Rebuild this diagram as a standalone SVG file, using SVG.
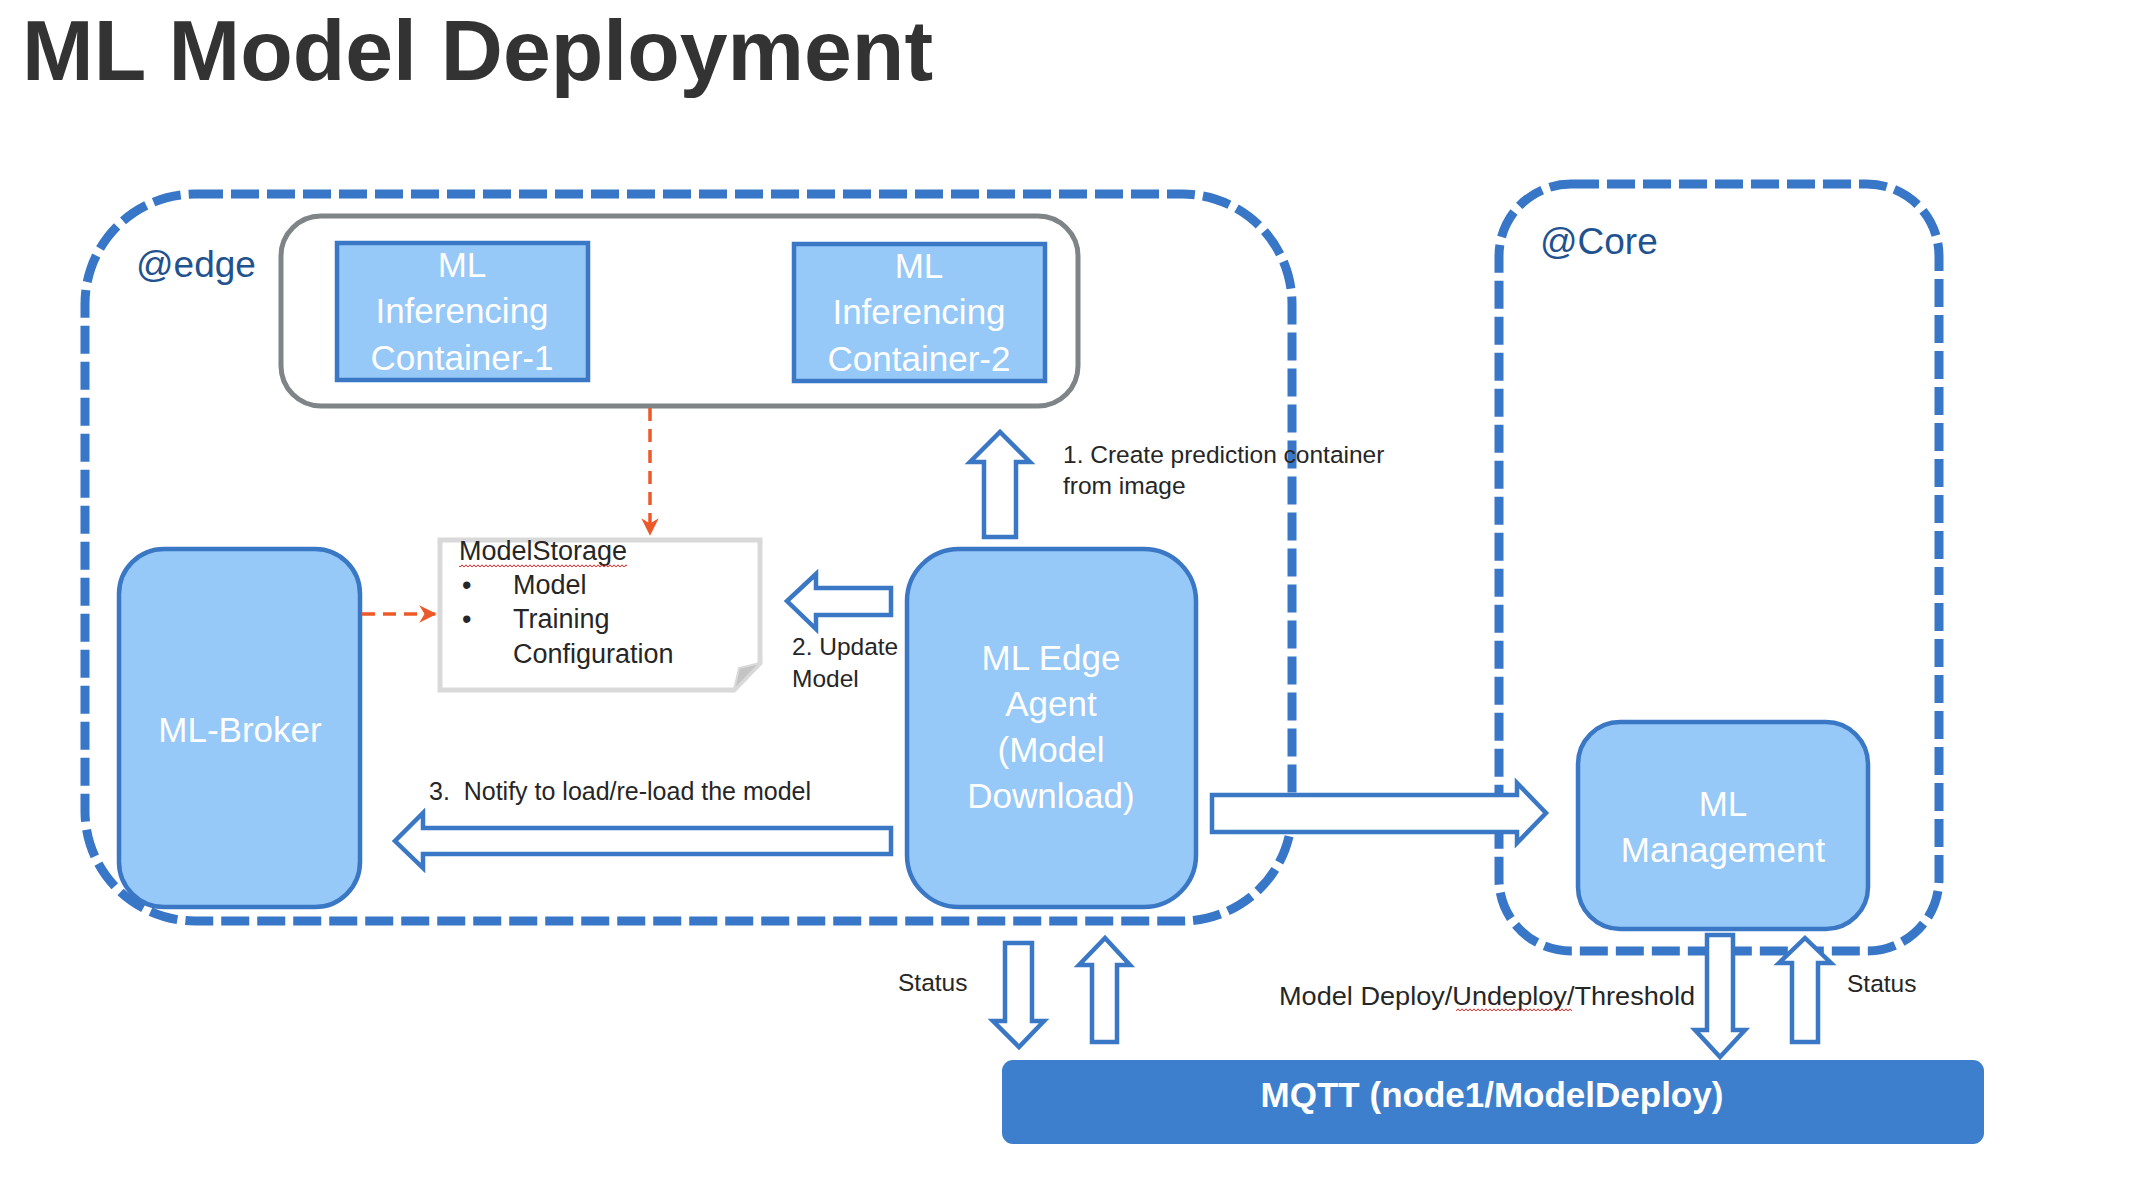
<svg xmlns="http://www.w3.org/2000/svg" width="2142" height="1184" viewBox="0 0 2142 1184">
<defs>
<style>
.zone{fill:none;stroke:#3877C7;stroke-width:9;stroke-dasharray:28 8}
.node{fill:#96C8F8;stroke:#3A78C6;stroke-width:4.5}
.ntxt{font-family:"Liberation Sans",Arial,sans-serif;font-size:35px;fill:#ffffff;text-anchor:middle}
.lbl{font-family:"Liberation Sans",Arial,sans-serif;font-size:24.5px;fill:#262626}
.note{font-family:"Liberation Sans",Arial,sans-serif;font-size:27px;fill:#262626}
.zlbl{font-family:"Liberation Sans",Arial,sans-serif;font-size:37px;fill:#1F528F}
.barrow{fill:#ffffff;stroke:#3A78C6;stroke-width:4.5;stroke-linejoin:miter}
.dash{fill:none;stroke:#EB5A28;stroke-width:3.5;stroke-dasharray:13 8}
</style>
<marker id="oh" viewBox="0 0 10 10" refX="9" refY="5" markerWidth="5" markerHeight="5" orient="auto" markerUnits="strokeWidth">
<path d="M0,0 L10,5 L0,10 L3,5 Z" fill="#EB5A28"/>
</marker>
<pattern id="sq" width="4" height="4" patternUnits="userSpaceOnUse">
<path d="M0,3.2 L2,0.8 L4,3.2" fill="none" stroke="#E2302B" stroke-width="1"/>
</pattern>
</defs>
<rect width="2142" height="1184" fill="#ffffff"/>

<text x="22" y="80" font-family="Liberation Sans,Arial,sans-serif" font-size="86" font-weight="bold" fill="#333333">ML Model Deployment</text>

<g id="zone-edge">
<rect class="zone" x="85" y="194" width="1207" height="727" rx="110" ry="110"/>
<text class="zlbl" x="136" y="277">@edge</text>
</g>
<g id="zone-core">
<rect class="zone" x="1499" y="184" width="440" height="767" rx="72" ry="72"/>
<text class="zlbl" x="1540" y="254">@Core</text>
</g>

<g id="inferencing-group">
<rect x="281" y="216" width="797" height="190" rx="40" ry="40" fill="#ffffff" stroke="#7F8486" stroke-width="5"/>
</g>
<g id="container-1">
<rect class="node" x="337" y="243" width="251" height="137"/>
<text class="ntxt" x="462" y="277">ML</text>
<text class="ntxt" x="462" y="323">Inferencing</text>
<text class="ntxt" x="462" y="370">Container-1</text>
</g>
<g id="container-2">
<rect class="node" x="794" y="244" width="251" height="137"/>
<text class="ntxt" x="919" y="278">ML</text>
<text class="ntxt" x="919" y="324">Inferencing</text>
<text class="ntxt" x="919" y="371">Container-2</text>
</g>

<g id="ml-broker">
<rect class="node" x="119" y="549" width="241" height="358" rx="45" ry="45"/>
<text class="ntxt" x="240" y="742">ML-Broker</text>
</g>

<g id="model-storage">
<path d="M440,540 H760 V663 L734,690 H440 Z" fill="#ffffff" stroke="#D9D9D9" stroke-width="5"/>
<path d="M734,690 L739,668 L760,663 Z" fill="#C4C4C4" stroke="#D9D9D9" stroke-width="2"/>
<text class="note" x="459" y="560">ModelStorage</text>
<rect x="459" y="564" width="168" height="4" fill="url(#sq)"/>
<text class="note" x="462" y="594">•</text>
<text class="note" x="513" y="594">Model</text>
<text class="note" x="462" y="628">•</text>
<text class="note" x="513" y="628">Training</text>
<text class="note" x="513" y="663">Configuration</text>
</g>

<g id="ml-edge-agent">
<rect class="node" x="907" y="549" width="289" height="358" rx="52" ry="52"/>
<text class="ntxt" x="1051" y="670">ML Edge</text>
<text class="ntxt" x="1051" y="716">Agent</text>
<text class="ntxt" x="1051" y="762">(Model</text>
<text class="ntxt" x="1051" y="808">Download)</text>
</g>

<g id="ml-management">
<rect class="node" x="1578" y="722" width="290" height="207" rx="42" ry="42"/>
<text class="ntxt" x="1723" y="816">ML</text>
<text class="ntxt" x="1723" y="862">Management</text>
</g>

<g id="mqtt">
<rect x="1002" y="1060" width="982" height="84" rx="11" ry="11" fill="#3D7FCC"/>
<text x="1492" y="1107" font-family="Liberation Sans,Arial,sans-serif" font-size="35" font-weight="bold" fill="#ffffff" text-anchor="middle">MQTT (node1/ModelDeploy)</text>
</g>

<g id="connectors">
<path class="dash" d="M650,408 V534" marker-end="url(#oh)"/>
<path class="dash" d="M362,614 H435" marker-end="url(#oh)"/>
<path class="barrow" d="M984,537 L984,462 L970,462 L1000,432 L1030,462 L1016,462 L1016,537 Z"/>
<path class="barrow" d="M891,588 L816,588 L816,574 L787,601 L816,629 L816,615 L891,615 Z"/>
<path class="barrow" d="M891,828 L423,828 L423,813 L395,841 L423,868 L423,854 L891,854 Z"/>
<path class="barrow" d="M1212,795 L1517,795 L1517,783 L1546,813 L1517,843 L1517,832 L1212,832 Z"/>
<path class="barrow" d="M1005,943 L1032,943 L1032,1021 L1044,1021 L1019,1047 L993,1021 L1005,1021 Z"/>
<path class="barrow" d="M1092,1042 L1092,965 L1079,965 L1105,938 L1130,965 L1117,965 L1117,1042 Z"/>
<path class="barrow" d="M1707,935 L1733,935 L1733,1030 L1745,1030 L1720,1057 L1695,1030 L1707,1030 Z"/>
<path class="barrow" d="M1792,1042 L1792,963 L1779,963 L1805,938 L1831,963 L1818,963 L1818,1042 Z"/>
</g>

<g id="labels">
<text class="lbl" x="1063" y="463">1. Create prediction container</text>
<text class="lbl" x="1063" y="494">from image</text>
<text class="lbl" x="792" y="655">2. Update</text>
<text class="lbl" x="792" y="687">Model</text>
<text class="lbl" x="429" y="800" style="font-size:25px" textLength="382" lengthAdjust="spacingAndGlyphs" xml:space="preserve">3.  Notify to load/re-load the model</text>
<text class="lbl" x="898" y="991">Status</text>
<text class="lbl" x="1279" y="1005" style="font-size:26px" textLength="416" lengthAdjust="spacingAndGlyphs">Model Deploy/Undeploy/Threshold</text>
<rect x="1456" y="1008" width="116" height="4" fill="url(#sq)"/>
<text class="lbl" x="1847" y="992">Status</text>
</g>
</svg>
